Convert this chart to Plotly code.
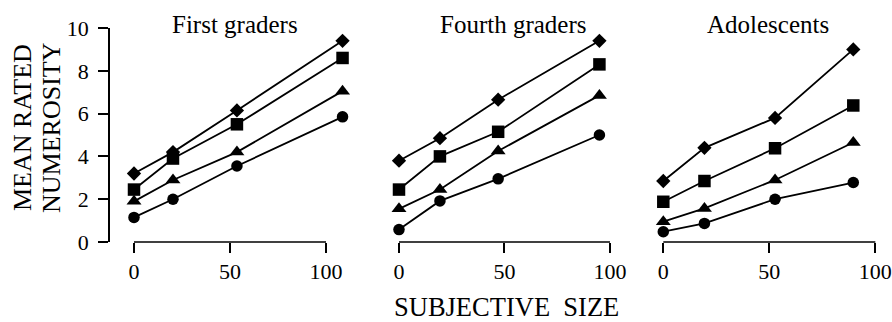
import plotly.graph_objects as go

# ---- data ----
panel_titles = ["First graders", "Fourth graders", "Adolescents"]
x_first = [0, 20.3, 53.6, 108.6]
x_fourth = [0, 19.4, 47, 95]
x_adol = [0, 19.4, 52.7, 89.6]

first_diamond = [3.2, 4.2, 6.15, 9.4]
first_square = [2.45, 3.9, 5.5, 8.6]
first_triangle = [1.9, 2.9, 4.2, 7.05]
first_circle = [1.15, 2.0, 3.55, 5.85]

fourth_diamond = [3.8, 4.85, 6.65, 9.4]
fourth_square = [2.45, 4.0, 5.15, 8.3]
fourth_triangle = [1.55, 2.45, 4.25, 6.85]
fourth_circle = [0.58, 1.92, 2.95, 5.0]

adol_diamond = [2.85, 4.4, 5.8, 9.0]
adol_square = [1.88, 2.85, 4.38, 6.38]
adol_triangle = [0.95, 1.57, 2.9, 4.65]
adol_circle = [0.48, 0.87, 2.0, 2.78]

y_ticks = [0, 2, 4, 6, 8, 10]
x_ticks = [0, 50, 100]

# ---- layout constants ----
W, H = 892, 322
FONT = "Liberation Serif"

def px_x(p):
    return p / W

def px_y(p):
    return (H - p) / H

panels = [
    (x_first, [first_diamond, first_square, first_triangle, first_circle], (110, 351), [-12.5, 113]),
    (x_fourth, [fourth_diamond, fourth_square, fourth_triangle, fourth_circle], (377.9, 616.3), [-10, 103]),
    (x_adol, [adol_diamond, adol_square, adol_triangle, adol_circle], (642.1, 881.7), [-10, 103]),
]
symbols = ["diamond", "square", "triangle-up", "circle"]
sizes = [11, 12.5, 13, 11.5]

fig = go.Figure()
layout = dict(
    width=W, height=H,
    margin=dict(l=0, r=0, t=0, b=0, autoexpand=False),
    paper_bgcolor="white", plot_bgcolor="white",
    showlegend=False,
    font=dict(family=FONT, size=22, color="black"),
)

ydom = [px_y(242), px_y(28)]
shapes = []
annotations = []
for i, (xs, series, (d0, d1), xr) in enumerate(panels):
    n = i + 1
    xa = "x" if n == 1 else f"x{n}"
    ya = "y" if n == 1 else f"y{n}"
    for vals, sym, sz in zip(series, symbols, sizes):
        fig.add_trace(go.Scatter(
            x=xs, y=vals, xaxis=xa, yaxis=ya, mode="lines+markers",
            line=dict(color="black", width=1.8),
            marker=dict(symbol=sym, size=sz, color="black"),
            cliponaxis=False,
        ))
    layout[f"xaxis{'' if n == 1 else n}"] = dict(
        domain=[px_x(d0), px_x(d1)], range=xr, anchor=ya,
        tickvals=x_ticks, ticktext=[str(v) for v in x_ticks],
        ticks="outside", ticklen=10, tickwidth=1.6, tickcolor="black",
        showline=False, showgrid=False, zeroline=False, automargin=False,
        ticklabeloverflow="allow",
        tickfont=dict(family=FONT, size=22, color="black"),
    )
    yax = dict(
        domain=ydom, range=[0, 10], anchor=xa,
        showgrid=False, zeroline=False, automargin=False,
    )
    if n == 1:
        yax.update(
            tickvals=y_ticks, ticks="outside", ticklen=10, tickwidth=1.6,
            tickcolor="black", showline=True, linecolor="black", linewidth=1.6,
            ticklabelstandoff=5, ticklabeloverflow="allow",
            tickfont=dict(family=FONT, size=22, color="black"),
        )
    else:
        yax.update(visible=False)
    layout[f"yaxis{'' if n == 1 else n}"] = yax
    shapes.append(dict(
        type="line", xref=xa, yref=f"{ya} domain",
        x0=x_ticks[0], x1=x_ticks[-1], y0=0, y1=0,
        line=dict(color="black", width=1.6),
    ))

title_centers = [235, 513, 768]
for t, cx in zip(panel_titles, title_centers):
    annotations.append(dict(
        text=t, x=px_x(cx), y=px_y(25), xref="paper", yref="paper",
        xanchor="center", yanchor="middle", showarrow=False,
        font=dict(family=FONT, size=25, color="black"),
    ))

annotations.append(dict(
    text="MEAN RATED", x=px_x(23), y=px_y(128), xref="paper", yref="paper",
    xanchor="center", yanchor="middle", showarrow=False, textangle=-90,
    font=dict(family=FONT, size=26, color="black"),
))
annotations.append(dict(
    text="NUMEROSITY", x=px_x(52), y=px_y(128), xref="paper", yref="paper",
    xanchor="center", yanchor="middle", showarrow=False, textangle=-90,
    font=dict(family=FONT, size=26, color="black"),
))
annotations.append(dict(
    text="SUBJECTIVE\u00a0 SIZE", x=px_x(506), y=px_y(307), xref="paper", yref="paper",
    xanchor="center", yanchor="middle", showarrow=False,
    font=dict(family=FONT, size=26.5, color="black"),
))

layout["shapes"] = shapes
layout["annotations"] = annotations
fig.update_layout(**layout)
# remove the default 8px page margin so the figure fills the window exactly
fig.write_html(
    "out.html",
    config={"displayModeBar": False},
    post_script="document.body.style.margin='0';document.body.style.overflow='hidden';",
)
